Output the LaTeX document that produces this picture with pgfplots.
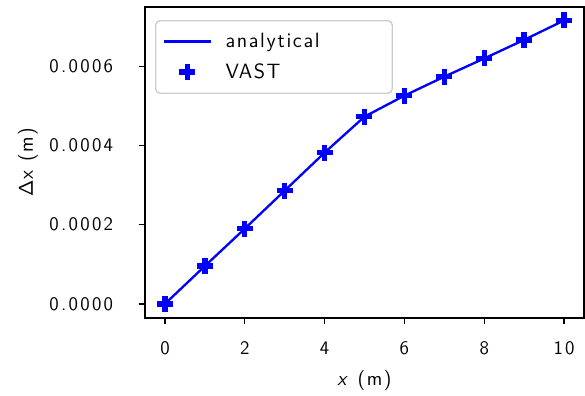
\documentclass[border=0pt]{standalone}
\usepackage{fontspec}
\setmainfont{Latin Modern Sans}[LetterSpace=8]
\usepackage{pgfplots}
\pgfplotsset{compat=1.18}
\definecolor{mplblue}{RGB}{0,0,255}
\begin{document}
\begin{tikzpicture}
\begin{axis}[
  scale only axis,
  width=263.4pt, height=186.6pt,
  xmin=-0.5, xmax=10.5,
  ymin=-0.0000357, ymax=0.00075,
  xtick={0,2,4,6,8,10},
  ytick={0,0.0002,0.0004,0.0006},
  scaled y ticks=false,
  yticklabel style={xshift=-12pt, /pgf/number format/fixed, /pgf/number format/fixed zerofill, /pgf/number format/precision=4, /pgf/number format/assume math mode=true},
  xticklabel style={yshift=-7pt, /pgf/number format/assume math mode=true},
  tick align=outside,
  major tick length=3.6pt,
  tick pos=left,
  axis line style={line width=0.8pt},
  every tick/.style={line width=0.8pt, black},
  tick label style={font=\fontsize{11.5}{13}\selectfont\addfontfeature{LetterSpace=12}},
  label style={font=\fontsize{12}{14}\selectfont},
  xlabel={\textit{x} (m)},
  ylabel={Δx (m)},
  xlabel style={yshift=-2.5pt},
  ylabel style={yshift=0pt},
  legend style={at={(0.023,0.958)}, anchor=north west, draw=black!20, line width=0.8pt, rounded corners=2.5pt, row sep=4pt, inner xsep=4pt, inner ysep=5.5pt, font=\fontsize{12.4}{15}\selectfont},
  legend cell align=left,
  legend image code/.code={\draw[mark repeat=2,mark phase=2,#1] plot coordinates {(0cm,0cm) (0.5cm,0cm) (1cm,0cm)};},
]
\addplot[mplblue, line width=1.4pt, mark=none] coordinates {
(0,0) (1,0.0000955) (2,0.00019) (3,0.000286) (4,0.000382) (5,0.000473) (6,0.000526) (7,0.000574) (8,0.00062) (9,0.000667) (10,0.000716)};
\addlegendentry{\hspace{6pt}\makebox[94pt][l]{analytical}}
\addplot[mplblue, only marks, mark=+, mark size=4.8pt, mark options={line width=3.2pt}] coordinates {
(0,0) (1,0.0000955) (2,0.00019) (3,0.000286) (4,0.000382) (5,0.000473) (6,0.000526) (7,0.000574) (8,0.00062) (9,0.000667) (10,0.000716)};
\addlegendentry{\hspace{6pt}VAST}
\coordinate (sw) at (rel axis cs:0,0);
\coordinate (ne) at (rel axis cs:1,1);
\end{axis}
\pgfresetboundingbox
\path ([xshift=-87pt,yshift=-46.8pt]sw) rectangle ([xshift=0.6pt,yshift=4.2pt]ne);
\end{tikzpicture}
\end{document}
